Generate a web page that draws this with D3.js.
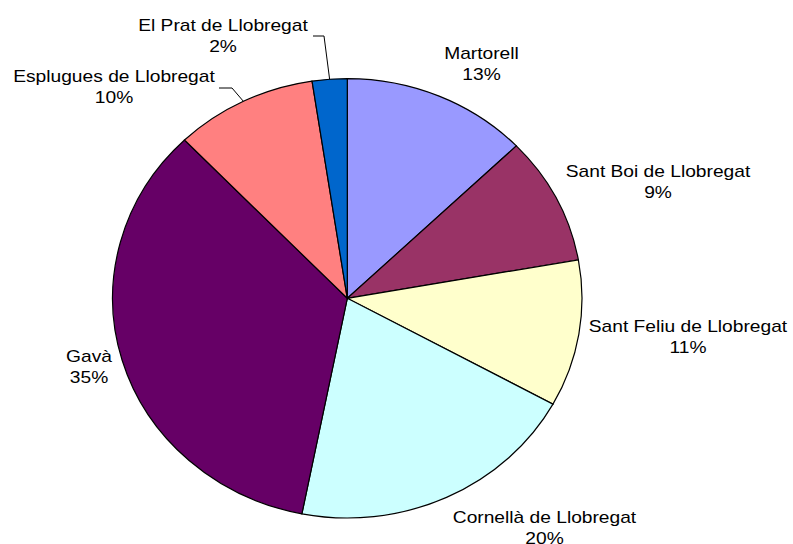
<!DOCTYPE html>
<html>
<head>
<meta charset="utf-8">
<script src="https://cdn.jsdelivr.net/npm/d3@7"></script>
<style>
  html, body { margin: 0; padding: 0; background: #fff; }
  svg text { font-family: Arial, "Liberation Sans", sans-serif; font-size: 16px; fill: #000; }
</style>
</head>
<body>
<svg id="chart" width="793" height="544"></svg>
<script>
// Data
const categories = ["Martorell", "Sant Boi de Llobregat", "Sant Feliu de Llobregat",
  "Cornellà de Llobregat", "Gavà", "Esplugues de Llobregat", "El Prat de Llobregat"];
const values = [12.8, 9.4, 10.8, 20.1, 34.7, 9.8, 2.4];
const colors = ["#9999FF", "#993366", "#FFFFCC", "#CCFFFF", "#660066", "#FF8080", "#0066CC"];

// Layout
const cx = 347.3, cy = 298.3, rx = 234.7, ry = 219.7;
// label centre points (x, y of first baseline) – layout, not data
const labelPos = [[481.5, 59], [658, 177], [688, 332], [544.5, 522.5], [89, 361.5], [114, 81.5], [223, 30.5]];
const lineGap = 21.5;
const textStretch = 1.2;
// leader lines for small outer labels: [elbow start x, y, elbow x]
const leaders = {5: [219, 88, 232], 6: [313, 36, 324]};

const svg = d3.select("#chart");
const pie = d3.pie().value(d => d).sort(null);
const arcs = pie(values);
const arc = d3.arc().innerRadius(0).outerRadius(ry);

const g = svg.append("g").attr("transform", `translate(${cx},${cy}) scale(${rx / ry},1)`);
g.selectAll("path").data(arcs).enter().append("path")
  .attr("d", arc)
  .attr("fill", (d, i) => colors[i])
  .attr("stroke", "#000")
  .attr("stroke-width", 1.2)
  .attr("vector-effect", "non-scaling-stroke");

// leader lines
arcs.forEach((d, i) => {
  if (!leaders[i]) return;
  const mid = (d.startAngle + d.endAngle) / 2;
  const ex = cx + Math.sin(mid) * rx, ey = cy - Math.cos(mid) * ry;
  const [sx, sy, kx] = leaders[i];
  svg.append("path")
    .attr("d", d3.line()([[sx, sy], [kx, sy], [ex, ey]]))
    .attr("fill", "none").attr("stroke", "#000").attr("stroke-width", 1);
});

// labels
const total = d3.sum(values);
arcs.forEach((d, i) => {
  const [x, y] = labelPos[i];
  const t = svg.append("text").attr("text-anchor", "middle")
    .attr("transform", `translate(${x},${y}) scale(${textStretch},1)`);
  t.append("tspan").attr("x", 0).attr("y", 0).text(categories[i]);
  t.append("tspan").attr("x", 0).attr("y", lineGap).text(Math.round(d.data / total * 100) + "%");
});
</script>
</body>
</html>
